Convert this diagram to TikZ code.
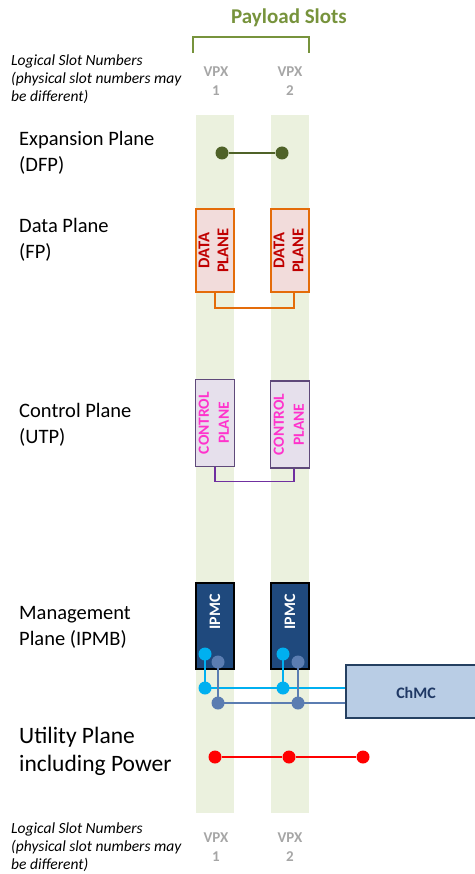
\documentclass[tikz,border=0pt]{standalone}
\usepackage{fontspec}
\setmainfont{Carlito}
\definecolor{colgreen}{HTML}{EBF1DE}
\definecolor{paygreen}{HTML}{77933C}
\definecolor{vpxgray}{HTML}{A6A6A6}
\definecolor{dfpgreen}{HTML}{4F6228}
\definecolor{datafill}{HTML}{F2DCDB}
\definecolor{dataedge}{HTML}{E46C0A}
\definecolor{datatext}{HTML}{C00000}
\definecolor{ctrlfill}{HTML}{E6E0EC}
\definecolor{ctrledge}{HTML}{5F497A}
\definecolor{ctrltext}{HTML}{FF33CC}
\definecolor{ctrlline}{HTML}{7030A0}
\definecolor{ipmcfill}{HTML}{1F497D}
\definecolor{lblue}{HTML}{00B0F0}
\definecolor{gblue}{HTML}{5B7DB1}
\definecolor{chfill}{HTML}{B9CDE5}
\definecolor{chedge}{HTML}{254061}
\definecolor{chtext}{HTML}{1F3864}
\begin{document}
\begin{tikzpicture}[x=1pt,y=-1pt,
  column/.style={fill=colgreen,draw=none},
  planelabel/.style={anchor=west,align=left,inner sep=0,font=\fontsize{20.5}{26}\selectfont},
  note/.style={anchor=west,align=left,inner sep=0,font=\fontsize{15.5}{18}\selectfont\itshape},
  vpx/.style={align=center,inner sep=0,text=vpxgray,font=\fontsize{15}{19}\selectfont\bfseries},
  databox/.style={draw=dataedge,line width=1.5pt,fill=datafill,minimum width=38,minimum height=83,inner sep=0,text=datatext,font=\fontsize{16.5}{19}\selectfont\bfseries,align=center},
  ctrlbox/.style={draw=ctrledge,line width=1.5pt,fill=ctrlfill,minimum width=38,minimum height=87,inner sep=0,text=ctrltext,font=\fontsize{15.5}{19}\selectfont\bfseries,align=center},
  ipmcbox/.style={draw=black,line width=1.2pt,fill=ipmcfill,minimum width=38,minimum height=86,inner sep=0},
  dot/.style={circle,inner sep=0,minimum size=13},
  conn/.style={line width=1.5pt}]
\useasboundingbox (0,0) rectangle (474,874);
% columns
\fill[column] (196,115) rectangle (234,813);
\fill[column] (271,115) rectangle (309,813);
% header
\node[text=paygreen,font=\fontsize{21}{23}\selectfont\bfseries,inner sep=0] (payload) at (289,18) {Payload Slots};
\draw[paygreen,line width=1.5pt] (193,53) -- (193,37) -- (309,37) -- (309,53);
\node[note] (notetop) at (11,79) {Logical Slot Numbers\\(physical slot numbers may\\be different)};
\node[vpx] (vpx1t) at (216,81) {VPX\\1};
\node[vpx] (vpx2t) at (290,81) {VPX\\2};
% plane labels
\node[planelabel] (lexp) at (19,153) {Expansion Plane\\(DFP)};
\node[planelabel] (ldata) at (19,240) {Data Plane\\(FP)};
\node[planelabel] (lctrl) at (19,425) {Control Plane\\(UTP)};
\node[planelabel] (lmgmt) at (19,627) {Management\\Plane (IPMB)};
\node[planelabel,font=\fontsize{23.5}{28}\selectfont] (lutil) at (19,751) {Utility Plane\\including Power};
% expansion plane
\node[dot,fill=dfpgreen] (e1) at (222,153) {};
\node[dot,fill=dfpgreen] (e2) at (282,153) {};
\draw[dfpgreen,conn] (e1) -- (e2);
% data plane
\node[databox] (d1) at (215,250.5) {\rotatebox{90}{\begin{tabular}{@{}c@{}}DATA\\[0pt]PLANE\end{tabular}}};
\node[databox] (d2) at (290,250.5) {\rotatebox{90}{\begin{tabular}{@{}c@{}}DATA\\[0pt]PLANE\end{tabular}}};
\draw[dataedge,conn] (d1.south) -- ++(0,15) -| ([xshift=4pt]d2.south);
% control plane
\node[ctrlbox] (c1) at (215,423) {\rotatebox{90}{\begin{tabular}{@{}c@{}}CONTROL\\[1pt]PLANE\end{tabular}}};
\node[ctrlbox] (c2) at (290,424.5) {\rotatebox{90}{\begin{tabular}{@{}c@{}}CONTROL\\[1pt]PLANE\end{tabular}}};
\draw[ctrlline,conn] (c1.south) -- ++(0,14) -| ([xshift=4pt]c2.south);
% management plane
\node[ipmcbox] (i1) at (215,626) {};
\node[ipmcbox] (i2) at (290,626) {};
\node[text=white,font=\fontsize{16}{18}\selectfont\bfseries,rotate=90,inner sep=0] (t1) at (215,612) {IPMC};
\node[text=white,font=\fontsize{16}{18}\selectfont\bfseries,rotate=90,inner sep=0] (t2) at (290,612) {IPMC};
\node[draw=chedge,line width=1.2pt,fill=chfill,minimum width=140,minimum height=53,inner sep=0] (ch) at (416,691.5) {};
\node[text=chtext,font=\fontsize{16}{18}\selectfont\bfseries,inner sep=0] (chl) at (416,693) {ChMC};
\coordinate (lb1a) at (205,654);
\coordinate (lb1b) at (205,688);
\coordinate (gb1a) at (218,662);
\coordinate (gb1b) at (218,703);
\coordinate (lb2a) at (283,654);
\coordinate (lb2b) at (283,688);
\coordinate (gb2a) at (298,662);
\coordinate (gb2b) at (298,703);
\draw[lblue,conn] (lb1a) -- (lb1b) -- (lb2b) -- (lb2b -| ch.west);
\draw[lblue,conn] (lb2a) -- (lb2b);
\draw[gblue,conn] (gb1a) -- (gb1b) -- (gb2b) -- (gb2b -| ch.west);
\draw[gblue,conn] (gb2a) -- (gb2b);
\foreach \n in {lb1a,lb1b,lb2a,lb2b} \node[dot,fill=lblue] at (\n) {};
\foreach \n in {gb1a,gb1b,gb2a,gb2b} \node[dot,fill=gblue] at (\n) {};
% utility plane
\node[dot,fill=red] (r1) at (215,757) {};
\node[dot,fill=red] (r2) at (289,757) {};
\node[dot,fill=red] (r3) at (363,757) {};
\draw[red,conn] (r1) -- (r2) -- (r3);
% footer
\node[note] (notebot) at (11,847) {Logical Slot Numbers\\(physical slot numbers may\\be different)};
\node[vpx] (vpx1b) at (216,847) {VPX\\1};
\node[vpx] (vpx2b) at (290,847) {VPX\\2};
\end{tikzpicture}
\end{document}
